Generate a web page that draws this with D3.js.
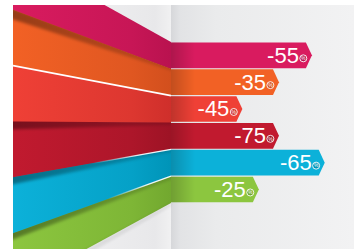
<!DOCTYPE html>
<html><head><meta charset="utf-8">
<script src="https://cdn.jsdelivr.net/npm/d3@7/dist/d3.min.js"></script>
<style>html,body{margin:0;padding:0;background:#fff;overflow:hidden}</style>
</head><body><svg id="c" width="354" height="249"></svg>
<script>
// ---- data ----
const categories = ["A", "B", "C", "D", "E", "F"];
const labels = [-55, -35, -45, -75, -65, -25];
const unit = "%";
const barLengths = [77, 59, 39, 59, 84, 48]; // length of each ribbon, % of the right panel
const colors = ["#d91b5f", "#f26125", "#ef4036", "#c11a2f", "#0cb1d9", "#8cc63f"];
const darkColors = ["#b9124f", "#d24f1d", "#cf2f2b", "#9d1325", "#0094b8", "#72a82f"];

// ---- layout ----
const W = 354, H = 249, edgeX = 13, topY = 5, foldX = 171;
const svg = d3.select("#c");
const defs = svg.append("defs");

const yFold = d3.scaleBand().domain(categories).range([42, 203]);
const yLeft = d3.scaleBand().domain(categories).range([-46, 289]);
const x = d3.scaleLinear().domain([0, 100]).range([foldX, W]);
const bw = yFold.bandwidth(), lbw = yLeft.bandwidth();

function lin(id, x1, x2, stops, y1, y2) {
  const g = defs.append("linearGradient").attr("id", id).attr("gradientUnits", "userSpaceOnUse")
    .attr("x1", x1).attr("x2", x2).attr("y1", y1 || 0).attr("y2", y2 || 0);
  stops.forEach(s => g.append("stop").attr("offset", s[0]).attr("stop-color", s[1]).attr("stop-opacity", s[2] == null ? 1 : s[2]));
}
lin("bgR", foldX, W, [[0, "#d6d7da"], [0.05, "#e2e3e5"], [0.25, "#eaebec"], [1, "#f2f2f3"]]);
lin("bgL", edgeX, foldX, [[0, "#f5f5f6"], [0.9, "#e8e8ea"], [0.97, "#eeeeef"], [1, "#f1f1f2"]]);
lin("barShade", foldX, foldX + 24, [[0, "#000", 0.2], [1, "#000", 0]]);
lin("shadowGrad", edgeX, foldX, [[0, "#000", 0.38], [1, "#000", 0.12]]);
categories.forEach((c, i) => lin("band" + i, edgeX, foldX, [[0, colors[i]], [0.75, d3.interpolateRgb(colors[i], darkColors[i])(0.55)], [1, darkColors[i]]]));
lin("hl4", edgeX, foldX, [[0.5, "#fff", 0], [0.8, "#fff", 0.9], [1, "#fff", 0.95]]);
lin("hl5", edgeX, foldX, [[0.6, "#fff", 0], [0.85, "#fff", 0.9], [1, "#fff", 0.95]]);

defs.append("filter").attr("id", "blur").attr("x", "-10%").attr("y", "-50%").attr("width", "120%").attr("height", "200%")
  .append("feGaussianBlur").attr("stdDeviation", 1.4);
defs.append("clipPath").attr("id", "frame").append("rect")
  .attr("x", edgeX).attr("y", topY).attr("width", W - edgeX).attr("height", H - topY);

const g = svg.append("g").attr("clip-path", "url(#frame)");

// backgrounds
g.append("rect").attr("x", edgeX).attr("y", topY).attr("width", foldX - edgeX).attr("height", H - topY).attr("fill", "url(#bgL)");
g.append("rect").attr("x", foldX).attr("y", topY).attr("width", W - foldX).attr("height", H - topY).attr("fill", "url(#bgR)");

// left wall bands (perspective)
const bandPts = (c, extra) => [
  [edgeX, yLeft(c)], [foldX, yFold(c)],
  [foldX, yFold(c) + bw + extra * 0.5], [edgeX, yLeft(c) + lbw + extra]
];
categories.forEach((c, i) => {
  const extra = i < categories.length - 1 ? 1 : 0;
  g.append("polygon").attr("points", bandPts(c, extra).join(" ")).attr("fill", "url(#band" + i + ")");
  defs.append("clipPath").attr("id", "cb" + i).append("polygon").attr("points", bandPts(c, 0).join(" "));
});
// soft shadow where a band tucks under the one above
[1, 3, 4, 5].forEach(i => {
  const c = categories[i];
  g.append("g").attr("clip-path", "url(#cb" + i + ")")
    .append("polygon")
    .attr("points", [[edgeX - 5, yLeft(c) - 3], [foldX + 2, yFold(c) - 2], [foldX + 2, yFold(c) + 2.5], [edgeX - 5, yLeft(c) + 8]].join(" "))
    .attr("fill", "url(#shadowGrad)").attr("filter", "url(#blur)");
});
// white highlight lines
const c2 = categories[2];
g.append("line").attr("x1", edgeX).attr("y1", yLeft(c2)).attr("x2", foldX).attr("y2", yFold(c2))
  .attr("stroke", "#fff").attr("stroke-width", 1.7);
[4, 5].forEach(i => {
  const c = categories[i];
  g.append("line").attr("x1", edgeX).attr("y1", yLeft(c)).attr("x2", foldX).attr("y2", yFold(c))
    .attr("stroke", "url(#hl" + i + ")").attr("stroke-width", 1.2);
});
// shadow under the lowest band on the wall
const cl = categories[categories.length - 1];
g.append("polygon")
  .attr("points", [[edgeX, yLeft(cl) + lbw], [foldX, yFold(cl) + bw], [foldX, yFold(cl) + bw + 3], [edgeX, yLeft(cl) + lbw + 8]].join(" "))
  .attr("fill", "#000").attr("opacity", 0.08).attr("filter", "url(#blur)");

// right ribbons
const tip = 6;
categories.forEach((c, i) => {
  const y0 = yFold(c) + 0.5, y1 = yFold(c) + bw - 0.7, ym = (y0 + y1) / 2;
  const xe = x(barLengths[i]);
  const p = d3.path();
  p.moveTo(foldX, y0); p.lineTo(xe - tip, y0); p.lineTo(xe, ym); p.lineTo(xe - tip, y1); p.lineTo(foldX, y1); p.closePath();
  g.append("path").attr("d", p.toString()).attr("fill", colors[i]);
  g.append("rect").attr("x", foldX).attr("y", y0).attr("width", 24).attr("height", y1 - y0).attr("fill", "url(#barShade)");
  const tx = xe - 13;
  g.append("text").attr("x", tx).attr("y", ym + 7.5).attr("text-anchor", "end")
    .attr("font-family", "'Liberation Sans', Arial, sans-serif").attr("font-size", 22).attr("fill", "#fff")
    .text(String(labels[i]));
  // small unit badge just after the last digit
  const cx = tx + 4.4, cy = ym + 3;
  g.append("circle").attr("cx", cx).attr("cy", cy).attr("r", 3.5)
    .attr("fill", darkColors[i]).attr("stroke", "#fff").attr("stroke-width", 0.9);
  g.append("text").attr("x", cx).attr("y", cy + 1.8).attr("text-anchor", "middle")
    .attr("font-family", "'Liberation Sans', Arial, sans-serif").attr("font-size", 5).attr("fill", "#fff").text(unit);
});
</script></body></html>
